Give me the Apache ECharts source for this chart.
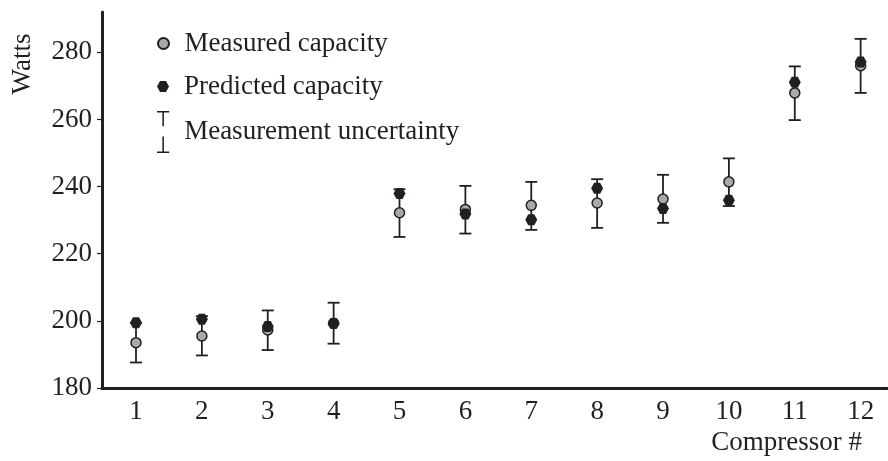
<!DOCTYPE html>
<html>
<head>
<meta charset="utf-8">
<title>Compressor capacity</title>
<script src="https://cdn.jsdelivr.net/npm/echarts@6/dist/echarts.min.js"></script>
<style>
  html, body { margin: 0; padding: 0; background: #fff; }
  #chart { width: 888px; height: 461px; }
</style>
</head>
<body>
<div id="chart"></div>
<script>
// Compressor numbers and values (Watts)
const compressors = [1, 2, 3, 4, 5, 6, 7, 8, 9, 10, 11, 12];
const measured = [193.5, 195.5, 197.3, 199.3, 232.2, 233.2, 234.4, 235.1, 236.3, 241.4, 267.9, 276.0];
const predicted = [199.4, 200.5, 198.3, 199.2, 237.9, 231.8, 230.1, 239.5, 233.5, 235.9, 271.1, 277.1];
const uncertaintyLow = [187.6, 189.7, 191.3, 193.2, 225.0, 226.0, 227.1, 227.7, 229.2, 234.2, 259.8, 267.9];
const uncertaintyHigh = [199.4, 201.4, 203.1, 205.4, 239.2, 240.2, 241.4, 242.2, 243.5, 248.4, 275.8, 284.0];
const yTicks = [180, 200, 220, 240, 260, 280];

const ink = '#231f20';
const font = 'Liberation Serif';
const hexagon = 'path://M0 5.5 L3 0 L9 0 L12 5.5 L9 11 L3 11 Z';
const errorIcon = 'path://M0 0 H12 V1.5 H6.75 V15 H5.25 V1.5 H0 Z M5.25 25 H6.75 V39.5 H12 V41 H0 V39.5 H5.25 Z';

const chart = echarts.init(document.getElementById('chart'));

const legendBase = {
  orient: 'vertical',
  left: 157,
  itemWidth: 32,
  padding: 0,
  selectedMode: false,
  textStyle: { fontFamily: font, fontSize: 27, color: ink }
};

chart.setOption({
  animation: false,
  grid: { left: 102, right: 1, top: 12, bottom: 73 },
  legend: [
    Object.assign({}, legendBase, {
      top: 30, itemHeight: 11,
      data: [{ name: 'Measured capacity', icon: 'circle' }]
    }),
    Object.assign({}, legendBase, {
      top: 73, itemHeight: 11,
      data: [{ name: 'Predicted capacity', icon: hexagon }]
    }),
    Object.assign({}, legendBase, {
      top: 111, itemHeight: 42,
      data: [{ name: 'Measurement uncertainty', icon: errorIcon }]
    })
  ],
  xAxis: {
    type: 'value',
    min: 0.484,
    max: 12.4,
    axisLine: { lineStyle: { color: ink, width: 3 } },
    axisTick: { show: false },
    splitLine: { show: false },
    axisLabel: {
      customValues: compressors,
      margin: 10,
      fontFamily: font,
      fontSize: 27,
      color: ink
    }
  },
  yAxis: {
    type: 'value',
    min: 180,
    max: 292,
    interval: 20,
    axisLine: { show: true, lineStyle: { color: ink, width: 3 } },
    axisTick: { show: true, length: 5, customValues: yTicks, lineStyle: { color: ink, width: 1.2 } },
    splitLine: { show: false },
    axisLabel: {
      customValues: yTicks,
      margin: 10,
      fontFamily: font,
      fontSize: 27,
      color: ink
    }
  },
  graphic: [
    {
      type: 'text',
      x: 23, y: 64,
      rotation: Math.PI / 2,
      style: { text: 'Watts', font: '27px "Liberation Serif"', fill: ink, align: 'center', verticalAlign: 'middle' }
    },
    {
      type: 'text',
      x: 862, y: 443,
      style: { text: 'Compressor #', font: '27px "Liberation Serif"', fill: ink, align: 'right', verticalAlign: 'middle' }
    }
  ],
  series: [
    {
      name: 'Measurement uncertainty',
      type: 'custom',
      itemStyle: { color: ink },
      data: compressors.map((c, i) => [c, uncertaintyLow[i], uncertaintyHigh[i]]),
      encode: { x: 0, y: [1, 2] },
      renderItem: (params, api) => {
        const top = api.coord([api.value(0), api.value(2)]);
        const bottom = api.coord([api.value(0), api.value(1)]);
        const half = 6;
        const style = { stroke: ink, lineWidth: 1.8 };
        return {
          type: 'group',
          children: [
            { type: 'line', shape: { x1: top[0], y1: top[1], x2: bottom[0], y2: bottom[1] }, style },
            { type: 'line', shape: { x1: top[0] - half, y1: top[1], x2: top[0] + half, y2: top[1] }, style },
            { type: 'line', shape: { x1: bottom[0] - half, y1: bottom[1], x2: bottom[0] + half, y2: bottom[1] }, style }
          ]
        };
      }
    },
    {
      name: 'Measured capacity',
      type: 'scatter',
      symbol: 'circle',
      symbolSize: 10,
      itemStyle: { color: '#a7a9ac', borderColor: ink, borderWidth: 1.5, opacity: 1 },
      data: compressors.map((c, i) => [c, measured[i]])
    },
    {
      name: 'Predicted capacity',
      type: 'scatter',
      symbol: hexagon,
      symbolSize: [12, 11],
      itemStyle: { color: ink, opacity: 1 },
      data: compressors.map((c, i) => [c, predicted[i]])
    }
  ]
});
</script>
</body>
</html>
